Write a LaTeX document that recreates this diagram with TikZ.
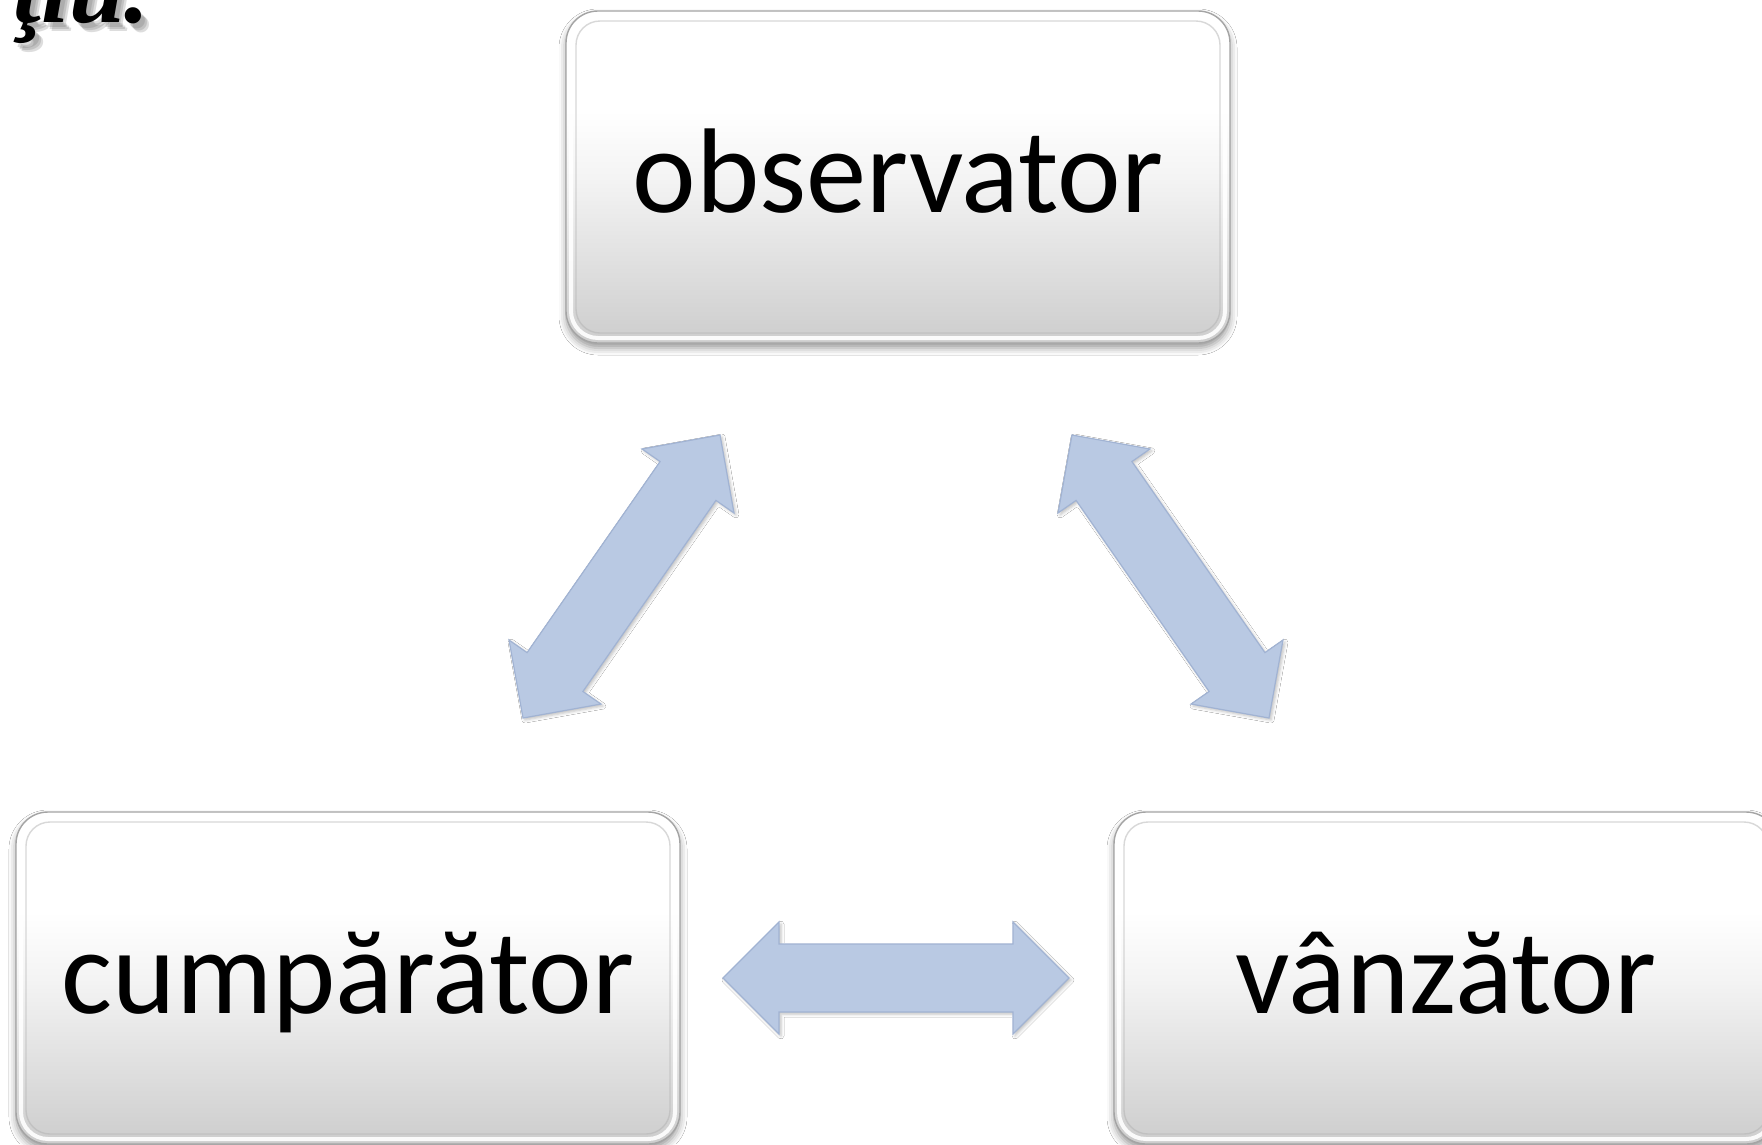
\documentclass[tikz,border=0pt]{standalone}
\usepackage{fontspec}
\setmainfont{Carlito}
\newfontfamily\headfont{Liberation Serif}
\usetikzlibrary{calc,shadows.blur}

\definecolor{arrowfill}{HTML}{B9C9E3}
\definecolor{arrowedge}{HTML}{A1B3D3}
\definecolor{boxedge}{HTML}{A4A4A4}
\definecolor{boxbottom}{HTML}{CDCDCD}
\definecolor{boxmid}{HTML}{F4F4F4}

% soft vertical grey ramp for the panels (25bp = bottom edge, 75bp = top edge)
\pgfdeclareverticalshading{panelshade}{100bp}{
  color(0bp)=(boxbottom); color(25bp)=(boxbottom); color(50bp)=(boxmid);
  color(60bp)=(white); color(75bp)=(white); color(100bp)=(white)}

\tikzset{
  panel/.style={rounded corners=32pt, draw=boxedge, line width=1.4pt,
    shading=panelshade, minimum width=664pt, minimum height=332pt,
    inner sep=0pt, text height=70pt, text depth=0pt,
    font=\fontsize{120.5}{145}\selectfont,
    blur shadow={shadow xshift=0pt, shadow yshift=-5pt,
      shadow blur radius=7pt, shadow opacity=40},
    path picture={
      \draw[white, line width=4pt, opacity=0.9, rounded corners=27pt]
        ([shift={(5pt,-5pt)}]path picture bounding box.north west) rectangle
        ([shift={(-5pt,5pt)}]path picture bounding box.south east);
      \draw[black!30, line width=1.4pt, opacity=0.5, rounded corners=24pt]
        ([shift={(10pt,-10pt)}]path picture bounding box.north west) rectangle
        ([shift={(-10pt,10pt)}]path picture bounding box.south east);
    }},
  blockarrow/.style={fill=arrowfill, draw=arrowedge, line width=1.2pt,
    line join=miter,
    blur shadow={shadow xshift=2pt, shadow yshift=-2pt,
      shadow blur radius=3pt, shadow opacity=25}},
  headline/.style={font=\headfont\bfseries\itshape\fontsize{100}{110}\selectfont,
    inner sep=0pt, anchor=base east}
}

% double-headed block arrow between two tips: #1 name, #2 and #3 tips
\newcommand\dblarrow[3]{%
  \coordinate (#1-ha) at ($(#2)!56pt!(#3)$);
  \coordinate (#1-hb) at ($(#3)!56pt!(#2)$);
  \draw[blockarrow] (#2)
    -- ($(#1-ha)!56pt!90:(#3)$) -- ($(#1-ha)!34pt!90:(#3)$)
    -- ($(#1-hb)!34pt!-90:(#2)$) -- ($(#1-hb)!56pt!-90:(#2)$)
    -- (#3)
    -- ($(#1-hb)!56pt!90:(#2)$) -- ($(#1-hb)!34pt!90:(#2)$)
    -- ($(#1-ha)!34pt!-90:(#3)$) -- ($(#1-ha)!56pt!-90:(#3)$)
    -- cycle;
}

\begin{document}
\begin{tikzpicture}[x=1pt, y=-1pt]
  \useasboundingbox (0,0) rectangle (1762,1144);
  \clip (0,0) rectangle (1762,1144);
  \fill[white] (0,0) rectangle (1762,1144);

  % heading, cut by the top edge, with a soft drop shadow
  \foreach \dx/\dy in {4/5,6/7,8/9}
    \node[headline, text=black!60, opacity=0.22] at (150+\dx,22+\dy) {ţiu.};
  \node[headline] (head) at (150,22) {ţiu.};

  % the three panels
  \node[panel] (obs) at (898,177) {observator};
  \node[panel] (cump) at (348,978) {cumpărător};
  \node[panel] (vanz) at (1446,978) {vânzător};

  % arrow tips
  \coordinate (la1) at (720,435);
  \coordinate (la2) at (523,718);
  \coordinate (ra1) at (1072,435);
  \coordinate (ra2) at (1269,718);
  \coordinate (ha1) at (723,978);
  \coordinate (ha2) at (1069,978);

  \dblarrow{left}{la1}{la2}
  \dblarrow{right}{ra1}{ra2}
  \dblarrow{mid}{ha1}{ha2}
\end{tikzpicture}
\end{document}
